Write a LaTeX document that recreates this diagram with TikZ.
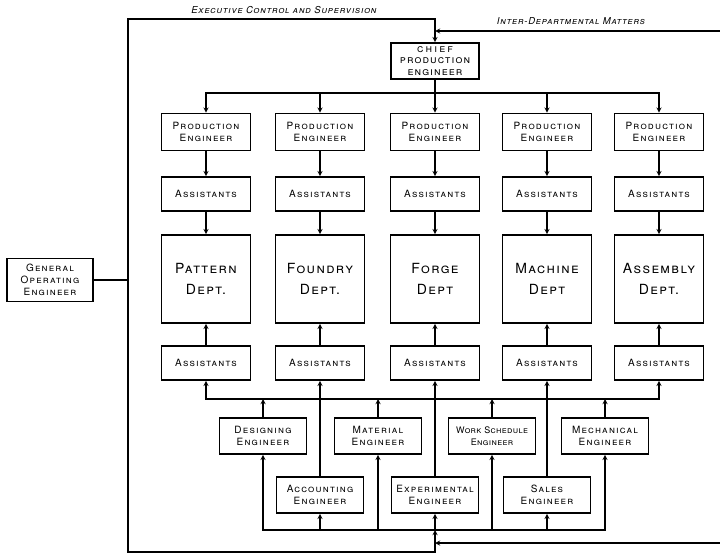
\documentclass[tikz,border=0pt]{standalone}
\usepackage{fontspec}
\setmainfont{TeX Gyre Heros}
\usetikzlibrary{positioning, arrows, calc}
\tikzset{%
  box/.style={draw, line width=1.7pt, minimum width=89pt, minimum height=36pt,
    align=center, inner sep=1pt,
    font=\fontsize{10}{12}\selectfont\scshape\addfontfeatures{LetterSpace=12}},
  staff/.style={box, minimum width=87pt}, % the engineers below the departments
  dept/.style={box, minimum height=88pt,
    font=\fontsize{14}{21}\selectfont\scshape\addfontfeatures{LetterSpace=10}},
  link/.style={draw, line width=1.3pt, ->, >=stealth},
  lbl/.style={font=\fontsize{9.5}{11}\selectfont\itshape\scshape\addfontfeatures{LetterSpace=8}}
}

\begin{document}
\begin{tikzpicture}[x=1pt, y=-1pt]
  \useasboundingbox (0,0) rectangle (720,554);
  % points on the control lines
  \coordinate (lt) at (128,19);
  \coordinate (lm) at (128,280);
  \coordinate (lb) at (128,552);
  \coordinate (ir) at (720,31);
  \coordinate (ij) at (435,31);
  \coordinate (br) at (720,543);
  \coordinate (bj) at (435,543);
  \coordinate (ubus) at (435,399);
  \coordinate (bbus) at (435,530);

  \node[box, minimum width=86pt, minimum height=43pt] (goe) at (50,280) {General\\Operating\\Engineer};
  \node[box, minimum width=88pt, font=\fontsize{11}{11.5}\selectfont\scshape\addfontfeatures{LetterSpace=10}]
    (chief) at (435,61) {{\addfontfeatures{LetterSpace=20}chief}\\production\\engineer};

  \foreach \i/\x/\name in {1/206/{Pattern\\Dept.}, 2/320/{Foundry\\Dept.},
      3/435/{Forge\\Dept}, 4/547/{Machine\\Dept}, 5/659/{Assembly\\Dept.}} {
    \node[box, minimum height=37pt] (pe\i) at (\x,132) {Production\\Engineer};
    \node[box, minimum height=34pt] (as\i) at (\x,194) {Assistants};
    \node[dept] (dp\i) at (\x,279) {\name};
    \node[box, minimum height=34pt] (ab\i) at (\x,363) {Assistants};
  }

  \node[staff] (des) at (263,436) {Designing\\Engineer};
  \node[staff] (mat) at (378,436) {Material\\Engineer};
  \node[staff, font=\fontsize{9}{12}\selectfont\scshape\addfontfeatures{LetterSpace=4}] (wrk) at (492,436) {Work Schedule\\Engineer};
  \node[staff] (mec) at (605,436) {Mechanical\\Engineer};
  \node[staff] (acc) at (320,495) {Accounting\\Engineer};
  \node[staff] (exp) at (435,495) {Experimental\\Engineer};
  \node[staff] (sal) at (547,495) {Sales\\Engineer};

  \node[lbl] (exec) at (284,10) {Executive Control and Supervision};
  \node[lbl] (inter) at (571,21) {Inter-Departmental Matters};

  \draw[link, -] (goe.east) -- (lm);
  \draw[link] (lm) -- (lt) -| (chief.north);
  \draw[link] (lm) -- (lb) -| (bbus);
  \draw[link] (ir) -- (ij);
  \draw[link] (br) -- (bj);
  \foreach \i in {1,...,5} {
    \draw[link] (chief.south) -- ++(0,13) -| (pe\i.north);
    \draw[link] (pe\i) -- (as\i);
    \draw[link] (as\i) -- (dp\i);
    \draw[link] (ab\i) -- (dp\i);
  }
  \draw[link, <->] (ab1.south) -- (ab1.south |- ubus) -- (ab5.south |- ubus) -- (ab5.south);
  \foreach \n in {des, mat, wrk, mec}
    \draw[link] (\n) -- (\n.north |- ubus);
  \draw[link] (acc) -- (ab2);
  \draw[link] (exp) -- (ab3);
  \draw[link] (sal) -- (ab4);
  \foreach \n in {des, mat, wrk, mec, acc, exp, sal}
    \draw[link] (bbus) -| (\n.south);
\end{tikzpicture}
\end{document}
